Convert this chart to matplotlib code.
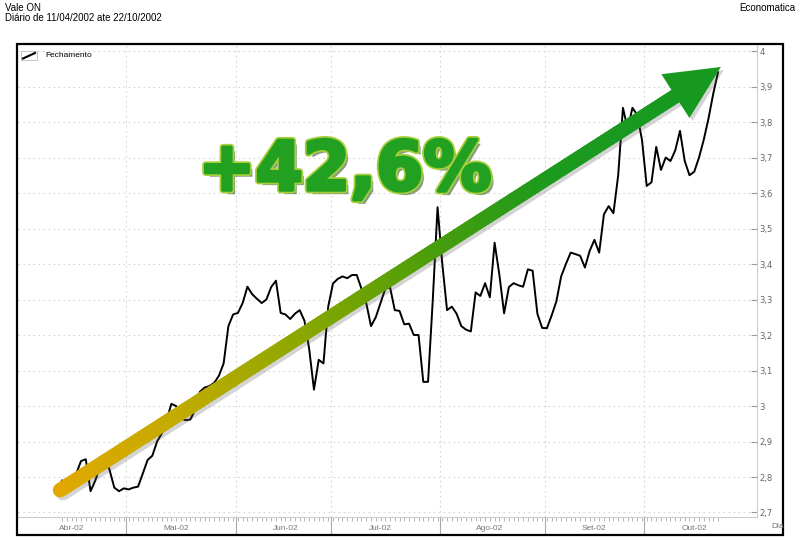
import numpy as np
import pandas as pd
import matplotlib
matplotlib.use('Agg')
import matplotlib.pyplot as plt
import matplotlib.patheffects as pe
import matplotlib.transforms as mtransforms
from matplotlib.collections import LineCollection
from matplotlib.colors import LinearSegmentedColormap
from matplotlib.patches import Rectangle, Polygon
from matplotlib.lines import Line2D

# Dias úteis do período e preço de fechamento
dias = pd.bdate_range('2002-04-11', '2002-10-22')
fechamento = [
    2.79, 2.78, 2.80, 2.81, 2.845, 2.85, 2.76, 2.79, 2.83, 2.855,
    2.82, 2.77, 2.76, 2.768, 2.765, 2.77, 2.773, 2.81, 2.848, 2.86,
    2.90, 2.923, 2.96, 3.006, 3.00, 2.965, 2.96, 2.962, 2.99, 3.04,
    3.052, 3.056, 3.065, 3.085, 3.12, 3.225, 3.258, 3.262, 3.29, 3.336,
    3.315, 3.302, 3.29, 3.30, 3.335, 3.353, 3.262, 3.258, 3.245, 3.26,
    3.27, 3.24, 3.16, 3.046, 3.13, 3.12, 3.28, 3.345, 3.358, 3.365,
    3.36, 3.369, 3.369, 3.33, 3.29, 3.225, 3.25, 3.29, 3.33, 3.335,
    3.27, 3.268, 3.23, 3.232, 3.20, 3.20, 3.068, 3.068, 3.30, 3.56,
    3.40, 3.27, 3.28, 3.26, 3.225, 3.215, 3.21, 3.32, 3.31, 3.346,
    3.306, 3.46, 3.37, 3.261, 3.335, 3.346, 3.34, 3.336, 3.385, 3.381,
    3.26, 3.22, 3.219, 3.255, 3.295, 3.365, 3.40, 3.432, 3.428, 3.423,
    3.39, 3.437, 3.468, 3.432, 3.54, 3.563, 3.543, 3.65, 3.84, 3.78,
    3.84, 3.82, 3.75, 3.62, 3.63, 3.73, 3.665, 3.70, 3.69, 3.72,
    3.775, 3.69, 3.65, 3.66, 3.70, 3.75, 3.81, 3.88, 3.94,
]
meses = ['2002-04', '2002-05', '2002-06', '2002-07', '2002-08', '2002-09', '2002-10']
rotulos_meses = ['Abr-02', 'Mai-02', 'Jun-02', 'Jul-02', 'Ago-02', 'Set-02', 'Out-02']
yticks = [2.7, 2.8, 2.9, 3.0, 3.1, 3.2, 3.3, 3.4, 3.5, 3.6, 3.7, 3.8, 3.9, 4.0]

# seta de tendência (em coordenadas de dados)
seta_ini = (-0.4, 2.763)
seta_fim = (138.6, 3.955)
texto_ganho = '+42,6%'

W, H = 800, 553
fig = plt.figure(figsize=(W / 100, H / 100), dpi=100)
fig.patch.set_facecolor('white')


def fx(x):
    return x / W


def fy(y):
    return 1 - y / H


ax = fig.add_axes([fx(18), fy(517), fx(757) - fx(18), fy(45) - fy(517)])
x = np.arange(len(fechamento))
ax.plot(x, fechamento, color='black', lw=1.4, zorder=3)

ax.set_xlim(-9.26, 146.2)
ax.set_ylim(4 - (517 - 51) / 355, 4 + 6 / 355)

# eixo Y à direita
ax.yaxis.tick_right()
ax.set_yticks(yticks)
ax.set_yticklabels([('%g' % v).replace('.', ',') for v in yticks])
ax.tick_params(axis='y', direction='in', length=4, pad=2, colors='#999999',
               labelsize=6, labelcolor='#666666')

# eixo X: limites dos meses, dias e rótulos
limites = np.where(dias.month[1:] != dias.month[:-1])[0] + 0.5
ax.set_xticks(limites)
ax.set_xticklabels([])
ax.set_xticks(x, minor=True)
ax.tick_params(axis='x', which='major', direction='out', length=13, color='#aaaaaa', width=0.8)
ax.tick_params(axis='x', which='minor', direction='out', length=3, color='#aaaaaa', width=0.6, pad=0)
trans = mtransforms.blended_transform_factory(ax.transData, ax.transAxes)
for m, rot in zip(meses, rotulos_meses):
    pos = dias.searchsorted(pd.Timestamp(m + '-15'))
    ax.text(pos, -12 / 472, rot, transform=trans, ha='center', va='center',
            fontsize=6, color='#777777', family='Liberation Sans')

ax.grid(True, axis='y', ls=(0, (1.5, 3)), color='#d5d5d5', lw=0.8)
ax.grid(True, axis='x', which='major', ls=(0, (1.5, 3)), color='#d5d5d5', lw=0.8)
for s in ['left', 'top']:
    ax.spines[s].set_visible(False)
ax.spines['right'].set_color('#cccccc')
ax.spines['bottom'].set_color('#cccccc')

# seta com gradiente (coordenadas de tela)
p0 = ax.transData.transform(seta_ini)
p1 = ax.transData.transform(seta_fim)
u = (p1 - p0) / np.hypot(*(p1 - p0))
perp = np.array([-u[1], u[0]])
comp_cabeca, meia_larg = 54, 26
base = p1 - u * comp_cabeca
t = np.linspace(0, 1, 160)
pts = p0[None, :] + (base + u * 4 - p0)[None, :] * t[:, None]
segs = np.stack([pts[:-1], pts[1:]], axis=1)
cmap = LinearSegmentedColormap.from_list(
    'seta', ['#e2a800', '#c2ab00', '#8aa700', '#4c9e0a', '#1c9a1e', '#17991f'])
ident = mtransforms.IdentityTransform()

sombra = Line2D(pts[:, 0] + 3, pts[:, 1] - 3, transform=ident, color='#555555',
                alpha=0.25, lw=10.5, solid_capstyle='round', zorder=4)
fig.add_artist(sombra)
lc = LineCollection(segs, cmap=cmap, transform=ident, linewidths=10.5,
                    capstyle='round', zorder=5)
lc.set_array(t[:-1])
fig.add_artist(lc)
cabeca = np.array([p1, base + perp * meia_larg, base - perp * meia_larg])
fig.add_artist(Polygon(cabeca + np.array([3, -3]), closed=True, transform=ident,
                       fc='#555555', alpha=0.25, ec='none', zorder=4))
fig.add_artist(Polygon(cabeca, closed=True, transform=ident, fc='#17991f',
                       ec='none', zorder=6))

# texto do ganho
fig.text(fx(345), fy(190), texto_ganho, ha='center', va='baseline',
         fontsize=49, fontweight='bold', family='DejaVu Sans', color='#22a022',
         zorder=7,
         path_effects=[pe.SimplePatchShadow(offset=(3, -3), shadow_rgbFace='#0d3d0d', alpha=0.5),
                       pe.Stroke(linewidth=5, foreground='#a8cf3a'),
                       pe.Stroke(linewidth=2.5, foreground='#22a022'), pe.Normal()])

# cabeçalho
fig.text(fx(5), fy(8), 'Vale ON', fontsize=7, family='Liberation Sans', va='center')
fig.text(fx(5), fy(18), 'Diário de 11/04/2002 ate 22/10/2002', fontsize=7,
         family='Liberation Sans', va='center')
fig.text(fx(795), fy(8), 'Economatica', fontsize=7, family='Liberation Sans',
         ha='right', va='center')
fig.text(fx(771), fy(527), 'Dia', fontsize=6, family='Liberation Sans',
         color='#777777', va='center')

# legenda
fig.add_artist(Rectangle((fx(21), fy(60)), fx(16), fy(51) - fy(60),
                         transform=fig.transFigure, fill=False, ec='#bbbbbb', lw=0.6))
fig.add_artist(Line2D([fx(23), fx(35)], [fy(58.5), fy(53)], transform=fig.transFigure,
                      color='black', lw=1.5))
fig.text(fx(45), fy(55.5), 'Fechamento', fontsize=6, family='Liberation Sans', va='center')

# moldura
fig.add_artist(Rectangle((fx(17), fy(535)), fx(766), fy(44) - fy(535),
                         transform=fig.transFigure, fill=False, ec='black', lw=1.6))

fig.savefig('out.png', dpi=100)
